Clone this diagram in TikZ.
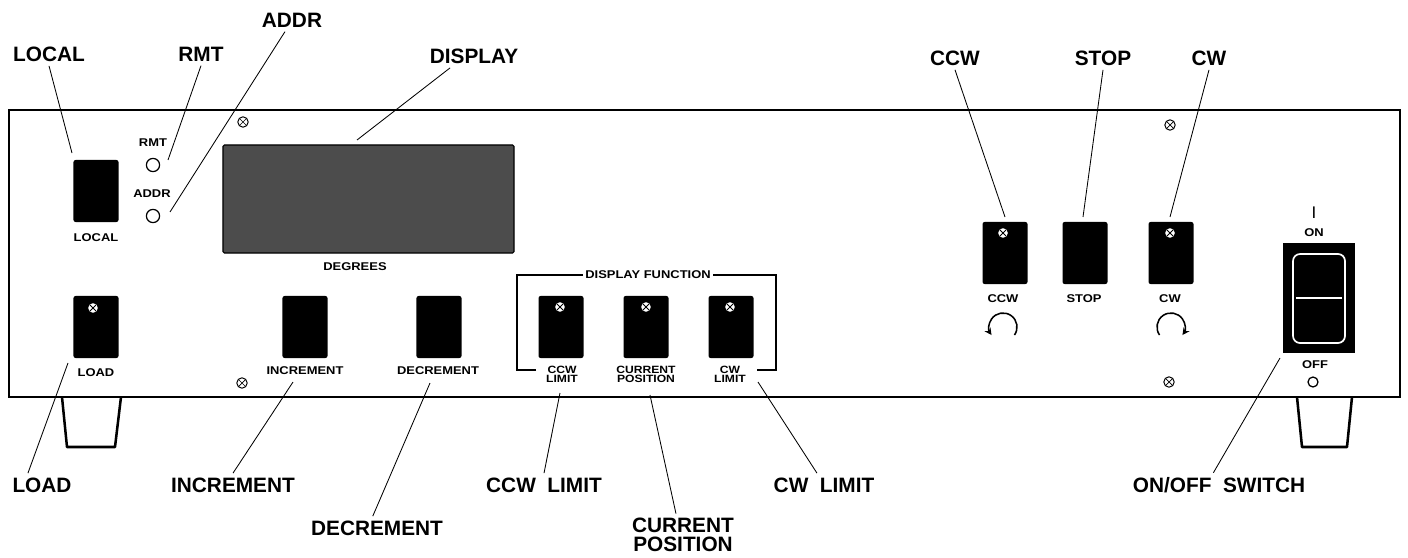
\documentclass[tikz,border=0pt]{standalone}
\usepackage{fontspec}
\setmainfont{Liberation Sans}
\newfontfamily\panelfont[FakeStretch=1.15]{Liberation Sans}
\usetikzlibrary{arrows.meta}

\begin{document}
\begin{tikzpicture}[x=0.025cm, y=-0.025cm,
    callout/.style={font=\fontsize{14.8}{13.5}\selectfont\bfseries, inner sep=3pt, align=center},
    tag/.style={font=\panelfont\bfseries\fontsize{8}{8}\selectfont, inner sep=1pt, align=center},
    tagtwo/.style={tag, font=\panelfont\bfseries\fontsize{7.5}{6.5}\selectfont},
    button/.style={rectangle, fill=black, rounded corners=1.5pt, minimum width=1.125cm, minimum height=1.55cm, inner sep=0pt},
    knob/.style={circle, fill=white, minimum size=0.24cm, inner sep=0pt, path picture={\draw[line width=0.7pt] (path picture bounding box.south west) -- (path picture bounding box.north east) (path picture bounding box.north west) -- (path picture bounding box.south east);}},
    screw/.style={circle, draw, line width=0.7pt, minimum size=0.26cm, inner sep=0pt, path picture={\draw[line width=0.5pt] (path picture bounding box.south west) -- (path picture bounding box.north east) (path picture bounding box.north west) -- (path picture bounding box.south east);}},
    led/.style={circle, draw, line width=0.9pt, minimum size=0.33cm, inner sep=0pt},
    lead/.style={line width=0.6pt},
    turn/.style={line width=1.1pt, -{Stealth[length=5pt, width=5pt]}}
]
\useasboundingbox (0,0) rectangle (1408,558);

% Chassis and feet
\draw[line width=1.4pt] (9,110) rectangle (1400,397);
\draw[line width=1.8pt, line join=round] (62,397) -- (67,447) -- (115,447) -- (121,397);
\draw[line width=1.8pt, line join=round] (1297,397) -- (1302,447) -- (1347,447) -- (1352,397);
\foreach \p [count=\i] in {(243,122),(242,383),(1170,125),(1169,382)}
    \node[screw] (screw\i) at \p {};

% Display
\node[draw, line width=0.8pt, fill=black!70, rounded corners=1pt, minimum width=7.275cm, minimum height=2.7cm] (display) at (368.5,199) {};
\node[tag] (degtag) at (355,267) {DEGREES};

% Left controls
\node[button] (local) at (96,191) {};
\node[tag] (localtag) at (96,238) {LOCAL};
\node[led] (rmt) at (153,165) {};
\node[tag] (rmttag) at (153,143) {RMT};
\node[led] (addr) at (153,216) {};
\node[tag] (addrtag) at (152,194) {ADDR};
\node[button] (load) at (96,327) {};
\node[tag] (loadtag) at (96,373) {LOAD};
\node[button] (incr) at (305,327) {};
\node[tag] (incrtag) at (305,371) {INCREMENT};
\node[button] (decr) at (439,327) {};
\node[tag] (decrtag) at (438,371) {DECREMENT};

% Display function group
\draw[line width=1.1pt] (536,370) -- (517,370) -- (517,275) -- (776,275) -- (776,370) -- (757,370);
\node[tag, fill=white, inner sep=2pt] (dispfn) at (648,275) {DISPLAY FUNCTION};
\node[button] (ccwlim) at (561,327) {};
\node[tagtwo] (ccwlimtag) at (562,374) {CCW\\LIMIT};
\node[button] (curpos) at (646,327) {};
\node[tagtwo] (curpostag) at (646,374) {CURRENT\\POSITION};
\node[button] (cwlim) at (731,327) {};
\node[tagtwo] (cwlimtag) at (730,374) {CW\\LIMIT};

% Motor controls
\node[button] (ccw) at (1005,253) {};
\node[tag] (ccwtag) at (1003,299) {CCW};
\node[button] (stop) at (1085,253) {};
\node[tag] (stoptag) at (1084,299) {STOP};
\node[button] (cw) at (1171,253) {};
\node[tag] (cwtag) at (1170,299) {CW};
\draw[turn] (1003,327) ++(35:14) arc[start angle=35, end angle=-215, radius=14];
\draw[turn] (1171,327) ++(145:14) arc[start angle=145, end angle=395, radius=14];
\foreach \p [count=\i] in {(93,308),(560,307),(646,307),(730,307),(1003,233),(1170,233)}
    \node[knob] (knob\i) at \p {};

% Power switch
\node[fill=black, minimum width=1.8cm, minimum height=2.75cm, inner sep=0pt] (onoff) at (1319,298) {};
\draw[white, line width=1.2pt, rounded corners=5pt] (1293,254) rectangle (1345,343);
\draw[white, line width=1pt] (1296,298) -- (1342,298);
\node[tag, font=\fontsize{12}{12}\selectfont] (onmark) at (1314,213) {I};
\node[tag] (ontag) at (1314,233) {ON};
\node[tag] (offtag) at (1315,365) {OFF};
\node[led, minimum size=0.25cm] (offled) at (1313,382) {};

% Callouts
\node[callout] (localcall) at (49,54) {LOCAL};
\node[callout] (rmtcall) at (201,54) {RMT};
\node[callout] (addrcall) at (292,20) {ADDR};
\node[callout] (dispcall) at (474,56) {DISPLAY};
\node[callout] (ccwcall) at (955,58) {CCW};
\node[callout] (stopcall) at (1103,58) {STOP};
\node[callout] (cwcall) at (1209,58) {CW};
\node[callout] (loadcall) at (42,485) {LOAD};
\node[callout] (incrcall) at (233,485) {INCREMENT};
\node[callout] (decrcall) at (377,528) {DECREMENT};
\node[callout] (ccwlimcall) at (544,485) {CCW\ \ LIMIT};
\node[callout] (curposcall) at (683,535) {CURRENT\\POSITION};
\node[callout] (cwlimcall) at (824,485) {CW\ \ LIMIT};
\node[callout] (onoffcall) at (1219,485) {ON/OFF\ \ SWITCH};

% Leader ends
\coordinate (localpt) at (72,153);
\coordinate (rmtpt) at (168,160);
\coordinate (addrpt) at (170,212);
\coordinate (disppt) at (357,140);
\coordinate (ccwpt) at (1005,217);
\coordinate (stoppt) at (1083,217);
\coordinate (cwpt) at (1170,217);
\coordinate (loadpt) at (68,363);
\coordinate (incrpt) at (293,382);
\coordinate (decrpt) at (430,383);
\coordinate (ccwlimpt) at (560,393);
\coordinate (curpospt) at (650,395);
\coordinate (cwlimpt) at (758,382);
\coordinate (onoffpt) at (1280,358);

\draw[lead] (localcall.south) -- (localpt);
\draw[lead] (rmtcall.south) -- (rmtpt);
\draw[lead] ([xshift=-5pt]addrcall.south) -- (addrpt);
\draw[lead] ([xshift=-17pt]dispcall.south) -- (disppt);
\draw[lead] (ccwcall.south) -- (ccwpt);
\draw[lead] (stopcall.south) -- (stoppt);
\draw[lead] (cwcall.south) -- (cwpt);
\draw[lead] ([xshift=-10pt]loadcall.north) -- (loadpt);
\draw[lead] (incrcall.north) -- (incrpt);
\draw[lead] ([xshift=-3pt]decrcall.north) -- (decrpt);
\draw[lead] (ccwlimcall.north) -- (ccwlimpt);
\draw[lead] ([xshift=-5pt]curposcall.north) -- (curpospt);
\draw[lead] ([xshift=-5pt]cwlimcall.north) -- (cwlimpt);
\draw[lead] ([xshift=-4pt]onoffcall.north) -- (onoffpt);

\end{tikzpicture}
\end{document}
